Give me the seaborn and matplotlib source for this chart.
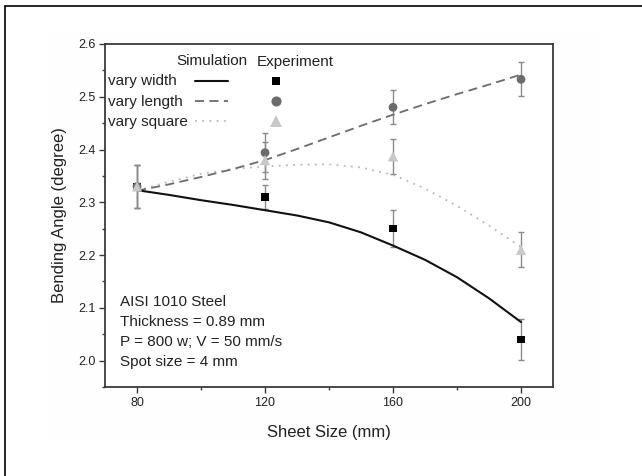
import numpy as np
import pandas as pd
import matplotlib
matplotlib.use("Agg")
import matplotlib.pyplot as plt
from matplotlib.lines import Line2D
from matplotlib.patches import Rectangle
from matplotlib.legend_handler import HandlerTuple
from matplotlib.ticker import MultipleLocator, FormatStrFormatter
import seaborn as sns

# Simulated bending angle vs sheet size
sim_size = [80, 90, 100, 110, 120, 130, 140, 150, 160, 170, 180, 190, 200]
sim_width = [2.323, 2.314, 2.304, 2.295, 2.285, 2.275, 2.262, 2.243, 2.218,
             2.191, 2.158, 2.118, 2.073]
sim_length = [2.322, 2.334, 2.348, 2.363, 2.380, 2.401, 2.423, 2.445, 2.466,
              2.486, 2.505, 2.523, 2.542]
sim_square = [2.322, 2.339, 2.354, 2.363, 2.368, 2.371, 2.372, 2.366, 2.352,
              2.326, 2.293, 2.256, 2.215]

# Measured bending angle with error bars
exp_size = [80, 120, 160, 200]
exp_width = [2.33, 2.31, 2.25, 2.04]
err_width = [0.04, 0.022, 0.035, 0.038]
exp_length = [2.33, 2.394, 2.48, 2.533]
err_length = [0.04, 0.037, 0.032, 0.032]
exp_square = [2.33, 2.38, 2.387, 2.21]
err_square = [0.04, 0.035, 0.033, 0.033]

series_labels = ["vary width", "vary length", "vary square"]
info_lines = ["AISI 1010 Steel", "Thickness = 0.89 mm",
              "P = 800 w; V = 50 mm/s", "Spot size = 4 mm"]

sns.set_style("ticks")
plt.rcParams["font.family"] = ["Liberation Sans", "DejaVu Sans"]

fig = plt.figure(figsize=(6.42, 4.76), dpi=100)
fig.patch.set_facecolor("white")
ax = fig.add_axes([0.1636, 0.187, 0.6978, 0.7206])

sim = pd.DataFrame({"size": sim_size, "width": sim_width,
                    "length": sim_length, "square": sim_square})
exp = pd.DataFrame({"size": exp_size, "width": exp_width, "ew": err_width,
                    "length": exp_length, "el": err_length,
                    "square": exp_square, "es": err_square})

keys = ["width", "length", "square"]
line_styles = {
    "width": dict(color="#111111", lw=1.5, ls="-"),
    "length": dict(color="#6b6b6b", lw=1.3, ls=(0, (5, 3))),
    "square": dict(color="#b8b8b8", lw=1.3, ls=(0, (1, 3))),
}
marker_styles = {
    "width": dict(marker="s", color="#000000", s=30),
    "length": dict(marker="o", color="#6b6b6b", s=40),
    "square": dict(marker="^", color="#c8c8c8", s=55),
}
err_cols = {"width": "ew", "length": "el", "square": "es"}

for key in keys:
    ax.errorbar(exp["size"], exp[key], yerr=exp[err_cols[key]], fmt="none",
                ecolor="#8a8a8a", elinewidth=1.0, capsize=2.5, capthick=1.0,
                zorder=2)

for key in ["square", "length", "width"]:
    st = line_styles[key]
    sns.lineplot(data=sim, x="size", y=key, ax=ax, color=st["color"],
                 linewidth=st["lw"], linestyle=st["ls"], zorder=3)

for i, key in enumerate(keys):
    ms = marker_styles[key]
    sns.scatterplot(data=exp, x="size", y=key, ax=ax, marker=ms["marker"],
                    color=ms["color"], s=ms["s"], edgecolor="none",
                    linewidth=0, zorder=4 + i)

ax.set_xlim(70, 210)
ax.set_ylim(1.95, 2.6)
ax.xaxis.set_major_locator(MultipleLocator(40))
ax.xaxis.set_minor_locator(MultipleLocator(20))
ax.yaxis.set_major_locator(MultipleLocator(0.1))
ax.yaxis.set_minor_locator(MultipleLocator(0.05))
ax.yaxis.set_major_formatter(FormatStrFormatter("%.1f"))
ax.set_xticks([80, 120, 160, 200])

for sp in ax.spines.values():
    sp.set_visible(True)
    sp.set_linewidth(1.3)
    sp.set_color("#3a3a3a")
ax.tick_params(axis="both", which="major", direction="out", length=4,
               width=1.0, color="#3a3a3a", labelsize=9, labelcolor="#222222",
               pad=3)
ax.tick_params(axis="both", which="minor", direction="out", length=2.5,
               width=1.0, color="#3a3a3a")
ax.tick_params(top=False, right=False, which="both")

ax.set_xlabel("Sheet Size (mm)", fontsize=12, color="#222222", labelpad=12)
ax.set_ylabel("Bending Angle (degree)", fontsize=12, color="#222222",
              labelpad=8)

# Legend rows: series name, simulation line sample, experiment marker
row_y = [0.892, 0.832, 0.774]
handles = []
for key in keys:
    st = line_styles[key]
    ms = marker_styles[key]
    h_line = Line2D([], [], color=st["color"], lw=st["lw"], ls=st["ls"])
    h_mark = Line2D([], [], ls="none", marker=ms["marker"], color=ms["color"],
                    markeredgewidth=0, markersize=np.sqrt(ms["s"]) * 1.15)
    handles.append((h_line, h_mark))
leg = ax.legend(handles, ["", "", ""], loc="upper left",
                bbox_to_anchor=(0.201, 0.908), frameon=False,
                fontsize=11, handlelength=6.4, handletextpad=0,
                labelspacing=0.4, borderpad=0, borderaxespad=0,
                handler_map={tuple: HandlerTuple(ndivide=None, pad=2.1)})
for y, label in zip(row_y, series_labels):
    ax.text(0.0067, y, label, transform=ax.transAxes, fontsize=11,
            color="#222222", va="center", ha="left")
ax.text(0.16, 0.951, "Simulation", transform=ax.transAxes, fontsize=11,
        color="#222222", va="center", ha="left")
ax.text(0.339, 0.947, "Experiment", transform=ax.transAxes, fontsize=11,
        color="#222222", va="center", ha="left")

for i, line in enumerate(info_lines):
    ax.text(0.0335, 0.2487 - i * 0.0586, line, transform=ax.transAxes,
            fontsize=11, color="#222222", va="center", ha="left")

# Page frame and faint panel tint
fig.add_artist(Rectangle((47 / 642, 1 - 442 / 476), 556 / 642, 410 / 476,
                         transform=fig.transFigure, facecolor="#fefefe",
                         edgecolor="none", zorder=-10))
ax.set_facecolor("white")
fig.add_artist(Line2D([5.5 / 642, 5.5 / 642], [0, 1 - 6 / 476],
                      transform=fig.transFigure, color="black", lw=1.2))
fig.add_artist(Line2D([5 / 642, 1], [1 - 6 / 476, 1 - 6 / 476],
                      transform=fig.transFigure, color="black", lw=1.2))

fig.savefig("out.png", dpi=100)
